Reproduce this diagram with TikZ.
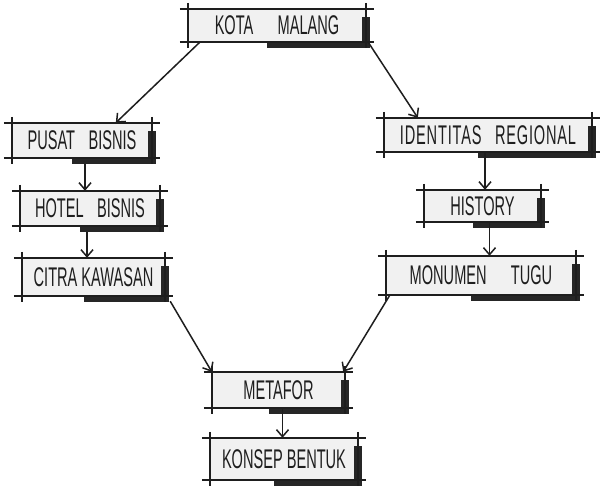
\documentclass[tikz,border=0pt]{standalone}
\usepackage{fontspec}
\setmainfont{Liberation Sans}[FakeStretch=0.54]
\usetikzlibrary{arrows.meta}
\definecolor{ink}{HTML}{1E1E1E}
\definecolor{paper}{HTML}{F1F1F1}
\definecolor{shadowink}{HTML}{262626}
\tikzset{
  boxnode/.style={fill=paper, inner sep=0pt, text=ink,
    font=\fontsize{27}{30}\selectfont},
  boxline/.style={draw=ink, line width=1.7pt},
  dropshadow/.style={fill=shadowink},
  arr/.style={draw=ink, line width=1.5pt, -{Straight Barb[length=7pt,width=12pt]}}
}
% box from (x1,y1) to (x2,y2), y counted downwards
\newcommand\handbox[6]{%
  \node[boxnode, minimum width={(#4-#2)*1pt}, minimum height={(#5-#3)*1pt}]
    (#1) at ({(#2+#4)/2},{(#3+#5)/2}) {#6};
  \fill[dropshadow] ([xshift=-4pt,yshift=-8pt]#1.north east) rectangle ([xshift=4pt,yshift=-6pt]#1.south east);
  \fill[dropshadow] ([xshift=-10pt]#1.south) rectangle ([xshift=4pt,yshift=-6pt]#1.south east);
  \draw[boxline] ([xshift=-8pt]#1.north west) -- ([xshift=8pt]#1.north east);
  \draw[boxline] ([xshift=-8pt]#1.south west) -- ([xshift=8pt]#1.south east);
  \draw[boxline] ([yshift=6pt]#1.north west) -- ([yshift=-6pt]#1.south west);
  \draw[boxline] ([yshift=6pt]#1.north east) -- ([yshift=-6pt]#1.south east);
}
\begin{document}
\begin{tikzpicture}[x=1pt,y=-1pt]
\useasboundingbox[fill=white] (0,0) rectangle (601,490);

\handbox{kota}{188}{9}{366}{42}{KOTA\hspace{0.9em}MALANG}
\handbox{pusat}{12}{123}{152}{158}{PUSAT\hspace{0.5em}BISNIS}
\handbox{hotel}{20}{191}{160}{226}{HOTEL\hspace{0.5em}BISNIS}
\handbox{citra}{22}{258}{165}{296}{CITRA KAWASAN}
\handbox{ident}{384}{118}{592}{152}{\addfontfeature{LetterSpace=3}IDENTITAS\hspace{0.5em}REGIONAL\hspace{0.3em}}
\handbox{hist}{424}{190}{541}{222}{HISTORY}
\handbox{monu}{386}{256}{576}{295}{MONUMEN\hspace{0.9em}TUGU\hspace{0.5em}}
\handbox{meta}{212}{372}{345}{408}{METAFOR}
\handbox{konsep}{210}{438}{358}{480}{KONSEP BENTUK}

% connectors
\draw[arr] ([xshift=12pt]kota.south west) -- ([xshift=104pt]pusat.north west);
\draw[arr] ([xshift=2pt]kota.south east) -- ([xshift=34pt]ident.north west);
\draw[arr] ([xshift=3pt,yshift=-6pt]pusat.south) -- ([xshift=3pt]pusat.south |- hotel.north);
\draw[arr] ([xshift=-3pt,yshift=-6pt]hotel.south) -- ([xshift=-3pt]hotel.south |- citra.north);
\draw[arr] ([xshift=-3pt]ident.south) -- ([xshift=-3pt]ident.south |- hist.north);
\draw[arr] ([xshift=7pt]hist.south) -- ([xshift=7pt]hist.south |- monu.north);
\draw[arr] ([xshift=5pt,yshift=-5pt]citra.south east) -- (meta.north west);
\draw[arr] ([xshift=4pt]monu.south west) -- ([xshift=-2pt]meta.north east);
\draw[arr] ([xshift=4pt]meta.south) -- ([xshift=4pt]meta.south |- konsep.north);
\end{tikzpicture}
\end{document}
